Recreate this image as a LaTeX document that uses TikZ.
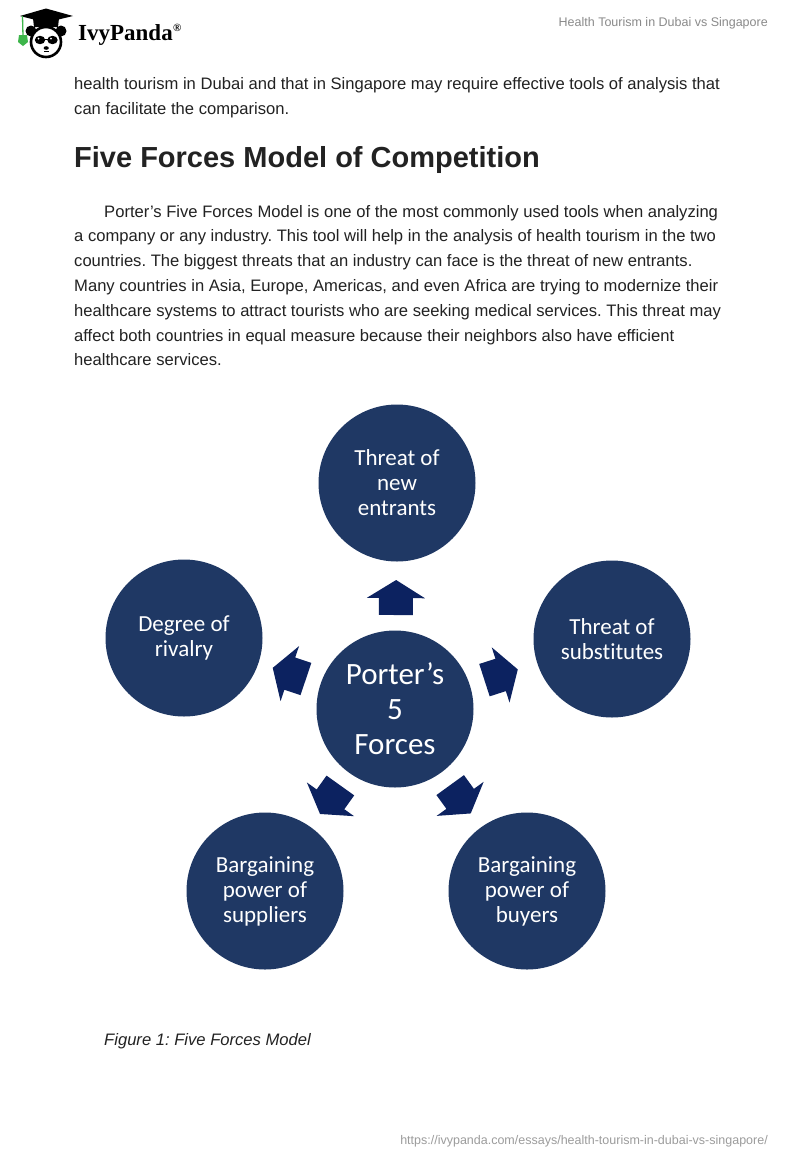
\documentclass[tikz,border=0pt]{standalone}
\usepackage{fontspec}
\setmainfont{Liberation Sans}
\newfontfamily\calib[RawFeature={-liga}]{Carlito}
\newfontfamily\logoserif{Liberation Serif}
\usetikzlibrary{calc}
\frenchspacing
\definecolor{circ}{HTML}{1F3864}
\definecolor{arrowblue}{HTML}{0C2260}
\definecolor{bodytext}{HTML}{222222}
\definecolor{hdrgray}{HTML}{8A8A8A}
\definecolor{urlgray}{HTML}{9C9C9C}
\definecolor{tassel}{HTML}{3DB54A}
\tikzset{
  force/.style={circle, fill=circ, minimum size=157pt, inner sep=0pt, text=white, align=center,
     font=\calib\fontsize{23}{25}\selectfont},
  hub/.style={force, font=\calib\fontsize{31}{35}\selectfont},
  bodyline/.style={anchor=base west, inner sep=0pt, text=bodytext, font=\fontsize{16.6}{20}\selectfont},
  headline/.style={anchor=base west, inner sep=0pt, text=bodytext, font=\bfseries\fontsize{29}{34}\selectfont},
  arrowfill/.style={fill=arrowblue}
}
\newcommand\forcearrow[1]{%
  \coordinate (fa-b) at ($(c.center)!94pt!(#1.center)$);
  \coordinate (fa-h) at ($(c.center)!111pt!(#1.center)$);
  \coordinate (fa-t) at ($(c.center)!129pt!(#1.center)$);
  \fill[arrowfill] ($(fa-b)!17pt!90:(#1.center)$) -- ($(fa-h)!17pt!90:(#1.center)$)
     -- ($(fa-h)!29pt!90:(#1.center)$) -- (fa-t) -- ($(fa-h)!29pt!-90:(#1.center)$)
     -- ($(fa-h)!17pt!-90:(#1.center)$) -- ($(fa-b)!17pt!-90:(#1.center)$) -- cycle;}
\begin{document}
\begin{tikzpicture}[x=1pt,y=-1pt]
\useasboundingbox (0,0) rectangle (800,1160);
\fill[white] (0,0) rectangle (800,1160);

% logo
\fill[black] (31,31) circle (5.5);
\fill[black] (61,31) circle (5.5);
\draw[line width=2.6pt, fill=white] (46,42) circle (15);
\fill[black] (40,40) ellipse (5.2 and 4.2);
\fill[black] (52.5,40) ellipse (5.2 and 4.2);
\draw[black, line width=1pt] (44,39) -- (48.5,39);
\fill[white] (38.5,38.5) circle (1);
\fill[white] (51,38.5) circle (1);
\fill[black] (46.2,48) ellipse (2.6 and 1.8);
\draw[black, line width=0.8pt] (44,51.5) -- (48.5,51.5);
\fill[black] (33,18) -- (59,18) -- (58,27) -- (34,27) -- cycle;
\fill[black] (20,16) -- (46,8.5) -- (73,16) -- (46,22.5) -- cycle;
\draw[tassel, line width=1.3pt] (22.5,16) -- (23,36);
\fill[tassel] (19,35) -- (27,35) -- (28,42) -- (23,46) -- (18,42) -- cycle;
\node[anchor=base west, inner sep=0pt, font=\logoserif\bfseries\fontsize{23}{26}\selectfont] (logo) at (78,40.5) {IvyPanda};
\node[anchor=base west, inner sep=0pt, font=\logoserif\bfseries\fontsize{11}{12}\selectfont] (reg) at (logo.base east) [yshift=9pt] {\textregistered};

\node[anchor=base east, inner sep=0pt, text=hdrgray, font=\fontsize{12.5}{15}\selectfont] (hdr) at (768,26.5) {Health Tourism in Dubai vs Singapore};

% body text
\node[bodyline] (l1) at (74,89) {health tourism in Dubai and that in Singapore may require effective tools of analysis that};
\node[bodyline] (l2) at (74,114) {can facilitate the comparison.};
\node[headline] (h) at (74,167) {Five Forces Model of Competition};
\node[bodyline] (p1) at (104,217) {Porter’s Five Forces Model is one of the most commonly used tools when analyzing};
\node[bodyline] (p2) at (74,241.8) {a company or any industry. This tool will help in the analysis of health tourism in the two};
\node[bodyline] (p3) at (74,266.6) {countries. The biggest threats that an industry can face is the threat of new entrants.};
\node[bodyline] (p4) at (74,291.4) {Many countries in Asia, Europe, Americas, and even Africa are trying to modernize their};
\node[bodyline] (p5) at (74,316.2) {healthcare systems to attract tourists who are seeking medical services. This threat may};
\node[bodyline] (p6) at (74,341) {affect both countries in equal measure because their neighbors also have efficient};
\node[bodyline] (p7) at (74,365.8) {healthcare services.};

% diagram
\node[hub] (c) at (395,709) {Porter’s\\5\\Forces};
\node[force] (t) at (397,483) {Threat of\\new\\entrants};
\node[force] (r) at (184,638) {Degree of\\rivalry};
\node[force] (s) at (612,639) {Threat of\\substitutes};
\node[force] (sp) at (265,891) {Bargaining\\power of\\suppliers};
\node[force] (b) at (527,891) {Bargaining\\power of\\buyers};

\forcearrow{t}
\forcearrow{r}
\forcearrow{s}
\forcearrow{sp}
\forcearrow{b}

\node[anchor=base west, inner sep=0pt, text=bodytext, font=\itshape\fontsize{16.6}{20}\selectfont] (cap) at (104,1045) {Figure 1: Five Forces Model};
\node[anchor=base east, inner sep=0pt, text=urlgray, font=\fontsize{12.5}{15}\selectfont] (url) at (768,1144) {https://ivypanda.com/essays/health-tourism-in-dubai-vs-singapore/};
\end{tikzpicture}
\end{document}
